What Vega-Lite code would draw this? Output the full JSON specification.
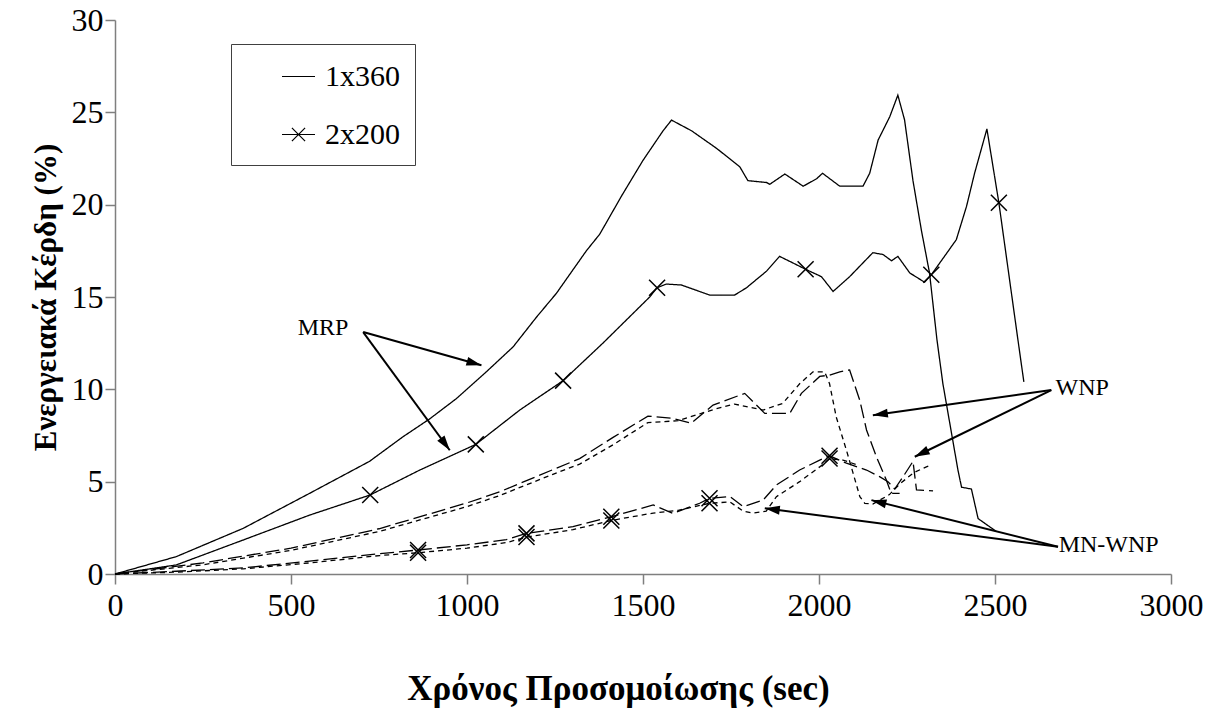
{
  "$schema": "https://vega.github.io/schema/vega-lite/v6.json",
  "width": 1056,
  "height": 554,
  "autosize": {"type": "none"},
  "padding": {"left": 115, "top": 20, "right": 46, "bottom": 137},
  "background": "white",
  "config": {
    "view": {"stroke": null},
    "font": "Liberation Serif"
  },
  "datasets": {
    "curves": [
      {"s": "MRP 1x360", "m": "MRP", "c": "1x360", "t": 0, "v": 0, "mk": false},
      {"s": "MRP 1x360", "m": "MRP", "c": "1x360", "t": 174, "v": 0.94, "mk": false},
      {"s": "MRP 1x360", "m": "MRP", "c": "1x360", "t": 364, "v": 2.47, "mk": false},
      {"s": "MRP 1x360", "m": "MRP", "c": "1x360", "t": 553, "v": 4.37, "mk": false},
      {"s": "MRP 1x360", "m": "MRP", "c": "1x360", "t": 723, "v": 6.1, "mk": false},
      {"s": "MRP 1x360", "m": "MRP", "c": "1x360", "t": 818, "v": 7.43, "mk": false},
      {"s": "MRP 1x360", "m": "MRP", "c": "1x360", "t": 894, "v": 8.4, "mk": false},
      {"s": "MRP 1x360", "m": "MRP", "c": "1x360", "t": 970, "v": 9.5, "mk": false},
      {"s": "MRP 1x360", "m": "MRP", "c": "1x360", "t": 1055, "v": 10.95, "mk": false},
      {"s": "MRP 1x360", "m": "MRP", "c": "1x360", "t": 1131, "v": 12.3, "mk": false},
      {"s": "MRP 1x360", "m": "MRP", "c": "1x360", "t": 1197, "v": 13.9, "mk": false},
      {"s": "MRP 1x360", "m": "MRP", "c": "1x360", "t": 1254, "v": 15.2, "mk": false},
      {"s": "MRP 1x360", "m": "MRP", "c": "1x360", "t": 1339, "v": 17.5, "mk": false},
      {"s": "MRP 1x360", "m": "MRP", "c": "1x360", "t": 1377, "v": 18.4, "mk": false},
      {"s": "MRP 1x360", "m": "MRP", "c": "1x360", "t": 1440, "v": 20.5, "mk": false},
      {"s": "MRP 1x360", "m": "MRP", "c": "1x360", "t": 1500, "v": 22.4, "mk": false},
      {"s": "MRP 1x360", "m": "MRP", "c": "1x360", "t": 1557, "v": 24.0, "mk": false},
      {"s": "MRP 1x360", "m": "MRP", "c": "1x360", "t": 1581, "v": 24.58, "mk": false},
      {"s": "MRP 1x360", "m": "MRP", "c": "1x360", "t": 1638, "v": 24.0, "mk": false},
      {"s": "MRP 1x360", "m": "MRP", "c": "1x360", "t": 1709, "v": 23.05, "mk": false},
      {"s": "MRP 1x360", "m": "MRP", "c": "1x360", "t": 1775, "v": 22.05, "mk": false},
      {"s": "MRP 1x360", "m": "MRP", "c": "1x360", "t": 1798, "v": 21.3, "mk": false},
      {"s": "MRP 1x360", "m": "MRP", "c": "1x360", "t": 1851, "v": 21.2, "mk": false},
      {"s": "MRP 1x360", "m": "MRP", "c": "1x360", "t": 1860, "v": 21.1, "mk": false},
      {"s": "MRP 1x360", "m": "MRP", "c": "1x360", "t": 1903, "v": 21.66, "mk": false},
      {"s": "MRP 1x360", "m": "MRP", "c": "1x360", "t": 1955, "v": 21.0, "mk": false},
      {"s": "MRP 1x360", "m": "MRP", "c": "1x360", "t": 1993, "v": 21.4, "mk": false},
      {"s": "MRP 1x360", "m": "MRP", "c": "1x360", "t": 2010, "v": 21.7, "mk": false},
      {"s": "MRP 1x360", "m": "MRP", "c": "1x360", "t": 2059, "v": 21.0, "mk": false},
      {"s": "MRP 1x360", "m": "MRP", "c": "1x360", "t": 2125, "v": 21.0, "mk": false},
      {"s": "MRP 1x360", "m": "MRP", "c": "1x360", "t": 2144, "v": 21.7, "mk": false},
      {"s": "MRP 1x360", "m": "MRP", "c": "1x360", "t": 2168, "v": 23.5, "mk": false},
      {"s": "MRP 1x360", "m": "MRP", "c": "1x360", "t": 2201, "v": 24.76, "mk": false},
      {"s": "MRP 1x360", "m": "MRP", "c": "1x360", "t": 2224, "v": 25.93, "mk": false},
      {"s": "MRP 1x360", "m": "MRP", "c": "1x360", "t": 2243, "v": 24.6, "mk": false},
      {"s": "MRP 1x360", "m": "MRP", "c": "1x360", "t": 2267, "v": 21.3, "mk": false},
      {"s": "MRP 1x360", "m": "MRP", "c": "1x360", "t": 2291, "v": 18.6, "mk": false},
      {"s": "MRP 1x360", "m": "MRP", "c": "1x360", "t": 2314, "v": 16.3, "mk": false},
      {"s": "MRP 1x360", "m": "MRP", "c": "1x360", "t": 2335, "v": 12.7, "mk": false},
      {"s": "MRP 1x360", "m": "MRP", "c": "1x360", "t": 2352, "v": 10.3, "mk": false},
      {"s": "MRP 1x360", "m": "MRP", "c": "1x360", "t": 2395, "v": 5.6, "mk": false},
      {"s": "MRP 1x360", "m": "MRP", "c": "1x360", "t": 2405, "v": 4.7, "mk": false},
      {"s": "MRP 1x360", "m": "MRP", "c": "1x360", "t": 2433, "v": 4.6, "mk": false},
      {"s": "MRP 1x360", "m": "MRP", "c": "1x360", "t": 2452, "v": 3.0, "mk": false},
      {"s": "MRP 1x360", "m": "MRP", "c": "1x360", "t": 2504, "v": 2.3, "mk": false},

      {"s": "MRP 2x200", "m": "MRP", "c": "2x200", "t": 0, "v": 0, "mk": false},
      {"s": "MRP 2x200", "m": "MRP", "c": "2x200", "t": 174, "v": 0.49, "mk": false},
      {"s": "MRP 2x200", "m": "MRP", "c": "2x200", "t": 364, "v": 1.84, "mk": false},
      {"s": "MRP 2x200", "m": "MRP", "c": "2x200", "t": 553, "v": 3.19, "mk": false},
      {"s": "MRP 2x200", "m": "MRP", "c": "2x200", "t": 725, "v": 4.28, "mk": true},
      {"s": "MRP 2x200", "m": "MRP", "c": "2x200", "t": 866, "v": 5.63, "mk": false},
      {"s": "MRP 2x200", "m": "MRP", "c": "2x200", "t": 1025, "v": 7.02, "mk": true},
      {"s": "MRP 2x200", "m": "MRP", "c": "2x200", "t": 1150, "v": 8.88, "mk": false},
      {"s": "MRP 2x200", "m": "MRP", "c": "2x200", "t": 1273, "v": 10.47, "mk": true},
      {"s": "MRP 2x200", "m": "MRP", "c": "2x200", "t": 1386, "v": 12.5, "mk": false},
      {"s": "MRP 2x200", "m": "MRP", "c": "2x200", "t": 1519, "v": 15.0, "mk": false},
      {"s": "MRP 2x200", "m": "MRP", "c": "2x200", "t": 1540, "v": 15.5, "mk": true},
      {"s": "MRP 2x200", "m": "MRP", "c": "2x200", "t": 1566, "v": 15.7, "mk": false},
      {"s": "MRP 2x200", "m": "MRP", "c": "2x200", "t": 1609, "v": 15.65, "mk": false},
      {"s": "MRP 2x200", "m": "MRP", "c": "2x200", "t": 1690, "v": 15.1, "mk": false},
      {"s": "MRP 2x200", "m": "MRP", "c": "2x200", "t": 1760, "v": 15.1, "mk": false},
      {"s": "MRP 2x200", "m": "MRP", "c": "2x200", "t": 1794, "v": 15.5, "mk": false},
      {"s": "MRP 2x200", "m": "MRP", "c": "2x200", "t": 1851, "v": 16.4, "mk": false},
      {"s": "MRP 2x200", "m": "MRP", "c": "2x200", "t": 1888, "v": 17.2, "mk": false},
      {"s": "MRP 2x200", "m": "MRP", "c": "2x200", "t": 1920, "v": 16.9, "mk": false},
      {"s": "MRP 2x200", "m": "MRP", "c": "2x200", "t": 1962, "v": 16.5, "mk": true},
      {"s": "MRP 2x200", "m": "MRP", "c": "2x200", "t": 2007, "v": 16.1, "mk": false},
      {"s": "MRP 2x200", "m": "MRP", "c": "2x200", "t": 2040, "v": 15.3, "mk": false},
      {"s": "MRP 2x200", "m": "MRP", "c": "2x200", "t": 2087, "v": 16.1, "mk": false},
      {"s": "MRP 2x200", "m": "MRP", "c": "2x200", "t": 2153, "v": 17.4, "mk": false},
      {"s": "MRP 2x200", "m": "MRP", "c": "2x200", "t": 2182, "v": 17.3, "mk": false},
      {"s": "MRP 2x200", "m": "MRP", "c": "2x200", "t": 2206, "v": 16.96, "mk": false},
      {"s": "MRP 2x200", "m": "MRP", "c": "2x200", "t": 2224, "v": 17.2, "mk": false},
      {"s": "MRP 2x200", "m": "MRP", "c": "2x200", "t": 2258, "v": 16.3, "mk": false},
      {"s": "MRP 2x200", "m": "MRP", "c": "2x200", "t": 2300, "v": 15.8, "mk": false},
      {"s": "MRP 2x200", "m": "MRP", "c": "2x200", "t": 2319, "v": 16.2, "mk": true},
      {"s": "MRP 2x200", "m": "MRP", "c": "2x200", "t": 2390, "v": 18.1, "mk": false},
      {"s": "MRP 2x200", "m": "MRP", "c": "2x200", "t": 2419, "v": 19.9, "mk": false},
      {"s": "MRP 2x200", "m": "MRP", "c": "2x200", "t": 2442, "v": 21.7, "mk": false},
      {"s": "MRP 2x200", "m": "MRP", "c": "2x200", "t": 2477, "v": 24.1, "mk": false},
      {"s": "MRP 2x200", "m": "MRP", "c": "2x200", "t": 2511, "v": 20.1, "mk": true},
      {"s": "MRP 2x200", "m": "MRP", "c": "2x200", "t": 2565, "v": 12.7, "mk": false},
      {"s": "MRP 2x200", "m": "MRP", "c": "2x200", "t": 2582, "v": 10.4, "mk": false},

      {"s": "WNP 1x360", "m": "WNP", "c": "1x360", "t": 0, "v": 0, "mk": false},
      {"s": "WNP 1x360", "m": "WNP", "c": "1x360", "t": 250, "v": 0.6, "mk": false},
      {"s": "WNP 1x360", "m": "WNP", "c": "1x360", "t": 500, "v": 1.4, "mk": false},
      {"s": "WNP 1x360", "m": "WNP", "c": "1x360", "t": 750, "v": 2.45, "mk": false},
      {"s": "WNP 1x360", "m": "WNP", "c": "1x360", "t": 1000, "v": 3.85, "mk": false},
      {"s": "WNP 1x360", "m": "WNP", "c": "1x360", "t": 1093, "v": 4.45, "mk": false},
      {"s": "WNP 1x360", "m": "WNP", "c": "1x360", "t": 1244, "v": 5.65, "mk": false},
      {"s": "WNP 1x360", "m": "WNP", "c": "1x360", "t": 1320, "v": 6.25, "mk": false},
      {"s": "WNP 1x360", "m": "WNP", "c": "1x360", "t": 1415, "v": 7.4, "mk": false},
      {"s": "WNP 1x360", "m": "WNP", "c": "1x360", "t": 1514, "v": 8.55, "mk": false},
      {"s": "WNP 1x360", "m": "WNP", "c": "1x360", "t": 1585, "v": 8.43, "mk": false},
      {"s": "WNP 1x360", "m": "WNP", "c": "1x360", "t": 1637, "v": 8.16, "mk": false},
      {"s": "WNP 1x360", "m": "WNP", "c": "1x360", "t": 1699, "v": 9.15, "mk": false},
      {"s": "WNP 1x360", "m": "WNP", "c": "1x360", "t": 1789, "v": 9.78, "mk": false},
      {"s": "WNP 1x360", "m": "WNP", "c": "1x360", "t": 1846, "v": 8.7, "mk": false},
      {"s": "WNP 1x360", "m": "WNP", "c": "1x360", "t": 1917, "v": 8.7, "mk": false},
      {"s": "WNP 1x360", "m": "WNP", "c": "1x360", "t": 1950, "v": 9.78, "mk": false},
      {"s": "WNP 1x360", "m": "WNP", "c": "1x360", "t": 2002, "v": 10.7, "mk": false},
      {"s": "WNP 1x360", "m": "WNP", "c": "1x360", "t": 2030, "v": 10.77, "mk": false},
      {"s": "WNP 1x360", "m": "WNP", "c": "1x360", "t": 2059, "v": 10.95, "mk": false},
      {"s": "WNP 1x360", "m": "WNP", "c": "1x360", "t": 2087, "v": 11.05, "mk": false},
      {"s": "WNP 1x360", "m": "WNP", "c": "1x360", "t": 2116, "v": 9.4, "mk": false},
      {"s": "WNP 1x360", "m": "WNP", "c": "1x360", "t": 2135, "v": 7.8, "mk": false},
      {"s": "WNP 1x360", "m": "WNP", "c": "1x360", "t": 2163, "v": 6.35, "mk": false},
      {"s": "WNP 1x360", "m": "WNP", "c": "1x360", "t": 2191, "v": 5.1, "mk": false},
      {"s": "WNP 1x360", "m": "WNP", "c": "1x360", "t": 2205, "v": 4.37, "mk": false},
      {"s": "WNP 1x360", "m": "WNP", "c": "1x360", "t": 2229, "v": 4.37, "mk": false},

      {"s": "MN-WNP 1x360", "m": "MN-WNP", "c": "1x360", "t": 0, "v": 0, "mk": false},
      {"s": "MN-WNP 1x360", "m": "MN-WNP", "c": "1x360", "t": 250, "v": 0.5, "mk": false},
      {"s": "MN-WNP 1x360", "m": "MN-WNP", "c": "1x360", "t": 500, "v": 1.28, "mk": false},
      {"s": "MN-WNP 1x360", "m": "MN-WNP", "c": "1x360", "t": 750, "v": 2.3, "mk": false},
      {"s": "MN-WNP 1x360", "m": "MN-WNP", "c": "1x360", "t": 1000, "v": 3.65, "mk": false},
      {"s": "MN-WNP 1x360", "m": "MN-WNP", "c": "1x360", "t": 1093, "v": 4.25, "mk": false},
      {"s": "MN-WNP 1x360", "m": "MN-WNP", "c": "1x360", "t": 1244, "v": 5.4, "mk": false},
      {"s": "MN-WNP 1x360", "m": "MN-WNP", "c": "1x360", "t": 1320, "v": 5.95, "mk": false},
      {"s": "MN-WNP 1x360", "m": "MN-WNP", "c": "1x360", "t": 1415, "v": 7.0, "mk": false},
      {"s": "MN-WNP 1x360", "m": "MN-WNP", "c": "1x360", "t": 1514, "v": 8.2, "mk": false},
      {"s": "MN-WNP 1x360", "m": "MN-WNP", "c": "1x360", "t": 1600, "v": 8.3, "mk": false},
      {"s": "MN-WNP 1x360", "m": "MN-WNP", "c": "1x360", "t": 1699, "v": 8.9, "mk": false},
      {"s": "MN-WNP 1x360", "m": "MN-WNP", "c": "1x360", "t": 1760, "v": 9.2, "mk": false},
      {"s": "MN-WNP 1x360", "m": "MN-WNP", "c": "1x360", "t": 1841, "v": 8.88, "mk": false},
      {"s": "MN-WNP 1x360", "m": "MN-WNP", "c": "1x360", "t": 1897, "v": 9.24, "mk": false},
      {"s": "MN-WNP 1x360", "m": "MN-WNP", "c": "1x360", "t": 1945, "v": 10.3, "mk": false},
      {"s": "MN-WNP 1x360", "m": "MN-WNP", "c": "1x360", "t": 1983, "v": 10.95, "mk": false},
      {"s": "MN-WNP 1x360", "m": "MN-WNP", "c": "1x360", "t": 2016, "v": 10.95, "mk": false},
      {"s": "MN-WNP 1x360", "m": "MN-WNP", "c": "1x360", "t": 2030, "v": 10.3, "mk": false},
      {"s": "MN-WNP 1x360", "m": "MN-WNP", "c": "1x360", "t": 2049, "v": 8.5, "mk": false},
      {"s": "MN-WNP 1x360", "m": "MN-WNP", "c": "1x360", "t": 2078, "v": 6.7, "mk": false},
      {"s": "MN-WNP 1x360", "m": "MN-WNP", "c": "1x360", "t": 2097, "v": 5.45, "mk": false},
      {"s": "MN-WNP 1x360", "m": "MN-WNP", "c": "1x360", "t": 2116, "v": 4.19, "mk": false},
      {"s": "MN-WNP 1x360", "m": "MN-WNP", "c": "1x360", "t": 2130, "v": 3.83, "mk": false},
      {"s": "MN-WNP 1x360", "m": "MN-WNP", "c": "1x360", "t": 2153, "v": 3.79, "mk": false},
      {"s": "MN-WNP 1x360", "m": "MN-WNP", "c": "1x360", "t": 2200, "v": 4.3, "mk": false},
      {"s": "MN-WNP 1x360", "m": "MN-WNP", "c": "1x360", "t": 2229, "v": 4.87, "mk": false},
      {"s": "MN-WNP 1x360", "m": "MN-WNP", "c": "1x360", "t": 2270, "v": 5.5, "mk": false},
      {"s": "MN-WNP 1x360", "m": "MN-WNP", "c": "1x360", "t": 2305, "v": 5.8, "mk": false},
      {"s": "MN-WNP 1x360", "m": "MN-WNP", "c": "1x360", "t": 2319, "v": 5.9, "mk": false},

      {"s": "WNP 2x200", "m": "WNP", "c": "2x200", "t": 0, "v": 0, "mk": false},
      {"s": "WNP 2x200", "m": "WNP", "c": "2x200", "t": 174, "v": 0.15, "mk": false},
      {"s": "WNP 2x200", "m": "WNP", "c": "2x200", "t": 364, "v": 0.33, "mk": false},
      {"s": "WNP 2x200", "m": "WNP", "c": "2x200", "t": 553, "v": 0.7, "mk": false},
      {"s": "WNP 2x200", "m": "WNP", "c": "2x200", "t": 752, "v": 1.1, "mk": false},
      {"s": "WNP 2x200", "m": "WNP", "c": "2x200", "t": 861, "v": 1.3, "mk": true},
      {"s": "WNP 2x200", "m": "WNP", "c": "2x200", "t": 1000, "v": 1.58, "mk": false},
      {"s": "WNP 2x200", "m": "WNP", "c": "2x200", "t": 1112, "v": 1.86, "mk": false},
      {"s": "WNP 2x200", "m": "WNP", "c": "2x200", "t": 1169, "v": 2.2, "mk": true},
      {"s": "WNP 2x200", "m": "WNP", "c": "2x200", "t": 1301, "v": 2.56, "mk": false},
      {"s": "WNP 2x200", "m": "WNP", "c": "2x200", "t": 1410, "v": 3.1, "mk": true},
      {"s": "WNP 2x200", "m": "WNP", "c": "2x200", "t": 1529, "v": 3.74, "mk": false},
      {"s": "WNP 2x200", "m": "WNP", "c": "2x200", "t": 1585, "v": 3.28, "mk": false},
      {"s": "WNP 2x200", "m": "WNP", "c": "2x200", "t": 1661, "v": 3.83, "mk": false},
      {"s": "WNP 2x200", "m": "WNP", "c": "2x200", "t": 1689, "v": 4.1, "mk": true},
      {"s": "WNP 2x200", "m": "WNP", "c": "2x200", "t": 1747, "v": 4.19, "mk": false},
      {"s": "WNP 2x200", "m": "WNP", "c": "2x200", "t": 1785, "v": 3.64, "mk": false},
      {"s": "WNP 2x200", "m": "WNP", "c": "2x200", "t": 1841, "v": 4.0, "mk": false},
      {"s": "WNP 2x200", "m": "WNP", "c": "2x200", "t": 1879, "v": 4.82, "mk": false},
      {"s": "WNP 2x200", "m": "WNP", "c": "2x200", "t": 1945, "v": 5.63, "mk": false},
      {"s": "WNP 2x200", "m": "WNP", "c": "2x200", "t": 2002, "v": 6.17, "mk": false},
      {"s": "WNP 2x200", "m": "WNP", "c": "2x200", "t": 2030, "v": 6.4, "mk": true},
      {"s": "WNP 2x200", "m": "WNP", "c": "2x200", "t": 2078, "v": 6.0, "mk": false},
      {"s": "WNP 2x200", "m": "WNP", "c": "2x200", "t": 2135, "v": 5.63, "mk": false},
      {"s": "WNP 2x200", "m": "WNP", "c": "2x200", "t": 2172, "v": 5.27, "mk": false},
      {"s": "WNP 2x200", "m": "WNP", "c": "2x200", "t": 2196, "v": 5.0, "mk": false},
      {"s": "WNP 2x200", "m": "WNP", "c": "2x200", "t": 2215, "v": 4.6, "mk": false},
      {"s": "WNP 2x200", "m": "WNP", "c": "2x200", "t": 2240, "v": 5.3, "mk": false},
      {"s": "WNP 2x200", "m": "WNP", "c": "2x200", "t": 2267, "v": 6.1, "mk": false},
      {"s": "WNP 2x200", "m": "WNP", "c": "2x200", "t": 2277, "v": 4.55, "mk": false},
      {"s": "WNP 2x200", "m": "WNP", "c": "2x200", "t": 2324, "v": 4.5, "mk": false},

      {"s": "MN-WNP 2x200", "m": "MN-WNP", "c": "2x200", "t": 0, "v": 0, "mk": false},
      {"s": "MN-WNP 2x200", "m": "MN-WNP", "c": "2x200", "t": 174, "v": 0.1, "mk": false},
      {"s": "MN-WNP 2x200", "m": "MN-WNP", "c": "2x200", "t": 364, "v": 0.28, "mk": false},
      {"s": "MN-WNP 2x200", "m": "MN-WNP", "c": "2x200", "t": 553, "v": 0.6, "mk": false},
      {"s": "MN-WNP 2x200", "m": "MN-WNP", "c": "2x200", "t": 752, "v": 1.0, "mk": false},
      {"s": "MN-WNP 2x200", "m": "MN-WNP", "c": "2x200", "t": 861, "v": 1.15, "mk": true},
      {"s": "MN-WNP 2x200", "m": "MN-WNP", "c": "2x200", "t": 1000, "v": 1.4, "mk": false},
      {"s": "MN-WNP 2x200", "m": "MN-WNP", "c": "2x200", "t": 1112, "v": 1.7, "mk": false},
      {"s": "MN-WNP 2x200", "m": "MN-WNP", "c": "2x200", "t": 1169, "v": 2.0, "mk": true},
      {"s": "MN-WNP 2x200", "m": "MN-WNP", "c": "2x200", "t": 1301, "v": 2.4, "mk": false},
      {"s": "MN-WNP 2x200", "m": "MN-WNP", "c": "2x200", "t": 1410, "v": 2.9, "mk": true},
      {"s": "MN-WNP 2x200", "m": "MN-WNP", "c": "2x200", "t": 1529, "v": 3.3, "mk": false},
      {"s": "MN-WNP 2x200", "m": "MN-WNP", "c": "2x200", "t": 1600, "v": 3.45, "mk": false},
      {"s": "MN-WNP 2x200", "m": "MN-WNP", "c": "2x200", "t": 1689, "v": 3.83, "mk": true},
      {"s": "MN-WNP 2x200", "m": "MN-WNP", "c": "2x200", "t": 1747, "v": 3.9, "mk": false},
      {"s": "MN-WNP 2x200", "m": "MN-WNP", "c": "2x200", "t": 1785, "v": 3.4, "mk": false},
      {"s": "MN-WNP 2x200", "m": "MN-WNP", "c": "2x200", "t": 1812, "v": 3.3, "mk": false},
      {"s": "MN-WNP 2x200", "m": "MN-WNP", "c": "2x200", "t": 1850, "v": 3.4, "mk": false},
      {"s": "MN-WNP 2x200", "m": "MN-WNP", "c": "2x200", "t": 1879, "v": 4.19, "mk": false},
      {"s": "MN-WNP 2x200", "m": "MN-WNP", "c": "2x200", "t": 1945, "v": 5.0, "mk": false},
      {"s": "MN-WNP 2x200", "m": "MN-WNP", "c": "2x200", "t": 2002, "v": 5.8, "mk": false},
      {"s": "MN-WNP 2x200", "m": "MN-WNP", "c": "2x200", "t": 2030, "v": 6.25, "mk": true},
      {"s": "MN-WNP 2x200", "m": "MN-WNP", "c": "2x200", "t": 2068, "v": 6.17, "mk": false},
      {"s": "MN-WNP 2x200", "m": "MN-WNP", "c": "2x200", "t": 2110, "v": 5.9, "mk": false}
    ],
    "arrows": [
      {"x0": 705, "y0": 13.1, "x1": 1041, "y1": 11.3},
      {"x0": 705, "y0": 13.1, "x1": 951, "y1": 6.7},
      {"x0": 2660, "y0": 9.96, "x1": 2153, "y1": 8.6},
      {"x0": 2660, "y0": 9.96, "x1": 2272, "y1": 6.35},
      {"x0": 2679, "y0": 1.48, "x1": 2149, "y1": 4.0},
      {"x0": 2679, "y0": 1.48, "x1": 1846, "y1": 3.56}
    ],
    "labels": [
      {"label": "MRP", "x": 591, "y": 12.94},
      {"label": "WNP", "x": 2748, "y": 9.69},
      {"label": "MN-WNP", "x": 2823, "y": 1.21}
    ],
    "configs": [
      {"c": "1x360"},
      {"c": "2x200"}
    ]
  },
  "layer": [
    {
      "data": {"name": "curves"},
      "mark": {"type": "line", "color": "black", "strokeWidth": 1.3, "interpolate": "linear"},
      "encoding": {
        "x": {
          "field": "t", "type": "quantitative",
          "scale": {"domain": [0, 3000], "nice": false},
          "axis": {
            "values": [0, 500, 1000, 1500, 2000, 2500, 3000],
            "format": "d",
            "grid": false,
            "domainColor": "#7f7f7f", "tickColor": "#7f7f7f",
            "domainWidth": 1.5, "tickWidth": 1.5, "tickSize": 10,
            "labelFont": "Liberation Serif", "labelFontSize": 32, "labelColor": "black",
            "labelFlush": false, "labelOverlap": false,
            "labelPadding": 6,
            "title": "Χρόνος Προσομοίωσης (sec)",
            "titleFont": "Liberation Serif", "titleFontSize": 35, "titleFontWeight": "bold", "titleColor": "black",
            "titleX": 503, "titleY": 125, "titleBaseline": "alphabetic"
          }
        },
        "y": {
          "field": "v", "type": "quantitative",
          "scale": {"domain": [0, 30], "nice": false},
          "axis": {
            "values": [0, 5, 10, 15, 20, 25, 30],
            "format": "d",
            "grid": false,
            "domainColor": "#7f7f7f", "tickColor": "#7f7f7f",
            "domainWidth": 1.5, "tickWidth": 1.5, "tickSize": 10,
            "labelFont": "Liberation Serif", "labelFontSize": 32, "labelColor": "black",
            "labelFlush": false, "labelOverlap": false,
            "labelPadding": 2,
            "title": "Ενεργειακά Κέρδη (%)",
            "titleFont": "Liberation Serif", "titleFontSize": 31, "titleFontWeight": "bold", "titleColor": "black",
            "titleX": -60, "titleY": 277, "titleBaseline": "alphabetic", "titleAlign": "center"
          }
        },
        "detail": {"field": "s"},
        "strokeDash": {
          "field": "m", "type": "nominal",
          "scale": {"domain": ["MRP", "WNP", "MN-WNP"], "range": [[1, 0], [14, 5], [5, 4]]},
          "legend": null
        }
      }
    },
    {
      "data": {"name": "curves"},
      "transform": [{"filter": "datum.mk"}],
      "mark": {"type": "point", "filled": false, "stroke": "black", "strokeWidth": 1.5, "opacity": 1, "size": 256, "shape": "M-1,-1L1,1M-1,1L1,-1"},
      "encoding": {
        "x": {"field": "t", "type": "quantitative"},
        "y": {"field": "v", "type": "quantitative"}
      }
    },
    {
      "data": {"name": "configs"},
      "transform": [{"filter": "datum.c === 'none'"}],
      "mark": {"type": "point", "filled": false, "stroke": "black", "strokeWidth": 1.2, "opacity": 1},
      "encoding": {
        "x": {"datum": 0, "type": "quantitative"},
        "y": {"datum": 0, "type": "quantitative"},
        "shape": {
          "field": "c", "type": "nominal",
          "scale": {"domain": ["1x360", "2x200"], "range": ["M-1,0L1,0", "M-1,0L1,0M-0.4,-0.4L0.4,0.4M-0.4,0.4L0.4,-0.4"]},
          "legend": {
            "title": null,
            "orient": "none",
            "legendX": 116,
            "legendY": 24,
            "padding": 15,
            "strokeColor": "#404040",
            "fillColor": "white",
            "symbolOffset": 35,
            "symbolSize": 1089,
            "symbolStrokeColor": "black",
            "symbolFillColor": "transparent",
            "symbolStrokeWidth": 1.2,
            "labelFont": "Liberation Serif",
            "labelFontSize": 30,
            "labelColor": "black",
            "labelOffset": 9,
            "rowPadding": 25,
            "labelExpr": "datum.label + '\u00a0\u00a0\u00a0'"
          }
        }
      }
    },
    {
      "data": {"name": "arrows"},
      "mark": {"type": "rule", "color": "black", "strokeWidth": 2},
      "encoding": {
        "x": {"field": "x0", "type": "quantitative"},
        "y": {"field": "y0", "type": "quantitative"},
        "x2": {"field": "x1"},
        "y2": {"field": "y1"}
      }
    },
    {
      "data": {"name": "arrows"},
      "transform": [
        {"calculate": "atan2((datum.x1 - datum.x0) * 0.352, (datum.y1 - datum.y0) * 18.47) * 180 / PI", "as": "ang"}
      ],
      "mark": {"type": "point", "filled": true, "color": "black", "opacity": 1, "size": 225, "shape": "M0,0L-0.6,2L0.6,2Z"},
      "encoding": {
        "x": {"field": "x1", "type": "quantitative"},
        "y": {"field": "y1", "type": "quantitative"},
        "angle": {"field": "ang", "type": "quantitative", "scale": null}
      }
    },
    {
      "data": {"name": "labels"},
      "mark": {"type": "text", "font": "Liberation Serif", "fontSize": 24, "color": "black", "align": "center", "baseline": "alphabetic"},
      "encoding": {
        "x": {"field": "x", "type": "quantitative"},
        "y": {"field": "y", "type": "quantitative"},
        "text": {"field": "label"}
      }
    }
  ]
}
